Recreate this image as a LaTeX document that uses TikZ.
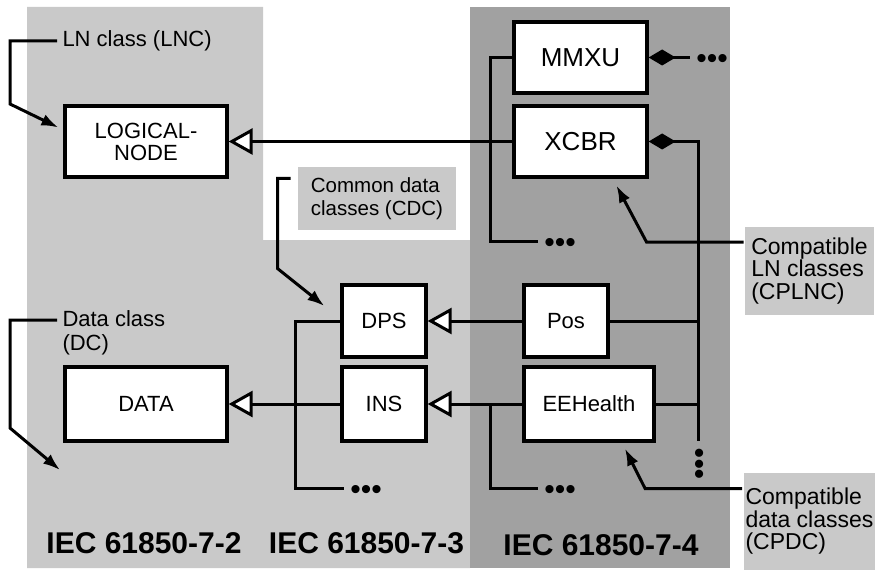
\documentclass[tikz,border=0pt]{standalone}
\usepackage{fontspec}
\setmainfont{Liberation Sans}
\usetikzlibrary{arrows.meta}
\definecolor{lightbg}{gray}{0.79}
\definecolor{darkbg}{gray}{0.63}
\definecolor{notebg}{gray}{0.79}
\begin{document}
\begin{tikzpicture}[x=1pt, y=-1pt, >={Latex[length=17pt,width=12pt]}, line width=3pt,
  cls/.style={draw, rectangle, line width=3.3pt, fill=white, align=center, font=\fontsize{22}{22}\selectfont},
  note/.style={rectangle, fill=notebg, inner sep=2pt, align=left},
  label/.style={anchor=west, inner sep=4pt, align=left, font=\fontsize{22}{24}\selectfont},
  more/.style={inner sep=5pt, text height=23pt, text depth=0pt, font=\fontsize{30}{30}\selectfont},
  part/.style={font=\fontsize{30}{30}\selectfont\bfseries},
  gen/.style={-{Triangle[fill=white, length=24pt, width=26pt]}},
  agg/.style={{Diamond[length=27pt, width=16pt]}-}]
\useasboundingbox (0,0) rectangle (878,572);
\fill[lightbg] (27,7) -- (263,7) -- (263,240) -- (470,240) -- (470,568) -- (27,568) -- cycle;
\fill[darkbg] (470,7) rectangle (730,568);

\node[cls, minimum width=162pt, minimum height=71pt] (lnode) at (146,141.5) {LOGICAL-\\NODE};
\node[cls, minimum width=133pt, minimum height=71pt, font=\fontsize{26}{26}\selectfont] (mmxu) at (580.5,57.5) {MMXU};
\node[cls, minimum width=133pt, minimum height=71pt, font=\fontsize{26}{26}\selectfont] (xcbr) at (580.5,141.5) {XCBR};
\node[cls, minimum width=84pt, minimum height=72pt] (dps) at (384,321) {DPS};
\node[cls, minimum width=84pt, minimum height=72pt] (pos) at (566,321) {Pos};
\node[cls, minimum width=162pt, minimum height=74pt] (data) at (146,404) {DATA};
\node[cls, minimum width=84pt, minimum height=74pt] (ins) at (384,404) {INS};
\node[cls, minimum width=130pt, minimum height=74pt] (eeh) at (589,404) {EEHealth};

\node[label] (lnc) at (57,41) {LN class (LNC)};
\node[label] (dc) at (57,333) {Data class\\(DC)};
\node[note, minimum width=158pt, minimum height=63pt, font=\fontsize{20.5}{23}\selectfont] (cdc) at (377,198.5) {Common data\\classes (CDC)};
\node[note, minimum width=129pt, minimum height=88pt, font=\fontsize{23}{22.5}\selectfont] (cplnc) at (809.5,271) {Compatible\\LN classes\\(CPLNC)};
\node[note, minimum width=129pt, minimum height=97pt, font=\fontsize{23}{22.5}\selectfont] (cpdc) at (809.5,521.5) {Compatible\\data classes\\(CPDC)};

\node[more] (mmxumore) at (712,57.5) {•••};
\node[more] (lnmore) at (560,241) {•••};
\node[more] (cdcmore) at (366,488) {•••};
\node[more] (cpdcmore) at (560,488) {•••};
\node[more, rotate=90] (cpmore) at (698,464) {•••};
\coordinate (cpend) at (698,441);
\coordinate (dctip) at (60,470);

\node[part] (iec2) at (144,543) {IEC 61850-7-2};
\node[part] (iec3) at (366.5,543) {IEC 61850-7-3};
\node[part] (iec4) at (601,545) {IEC 61850-7-4};

\draw[gen] (xcbr.west) -- (lnode.east);
\draw (mmxu.west) -- ++(-22,0) |- (lnmore.west);
\draw[agg] (mmxu.east) -- (mmxumore.west);
\draw[agg] (xcbr.east) -| (cpend);
\draw (pos.east) -- (pos.east -| cpend);
\draw (eeh.east) -- (eeh.east -| cpend);
\draw[gen] (pos.west) -- (dps.east);
\draw[gen] (eeh.west) -- (ins.east);
\draw[gen] (ins.west) -- (data.east);
\draw ([xshift=-32pt]eeh.west) |- (cpdcmore.west);
\draw (dps.west) -- ++(-45,0) |- (cdcmore.west);

\draw[->] (lnc.west) -- ++(-47,0) -- ++(0,63) -- ([xshift=-5pt,yshift=14pt]lnode.west);
\draw[->] ([yshift=13pt]dc.west) -- ++(-47,0) -- ++(0,108) -- (dctip);
\draw[->] ([xshift=-6pt,yshift=20pt]cdc.west) -- ++(-13,0) -- ++(0,90) -- ([xshift=-16pt,yshift=15pt]dps.west);
\draw[->] ([yshift=29pt]cplnc.west) -- ++(-97,0) -- ([xshift=36pt,yshift=-7pt]xcbr.south);
\draw[->] ([yshift=33pt]cpdc.west) -- ++(-97,0) -- ([xshift=36pt,yshift=-6pt]eeh.south);
\end{tikzpicture}
\end{document}
